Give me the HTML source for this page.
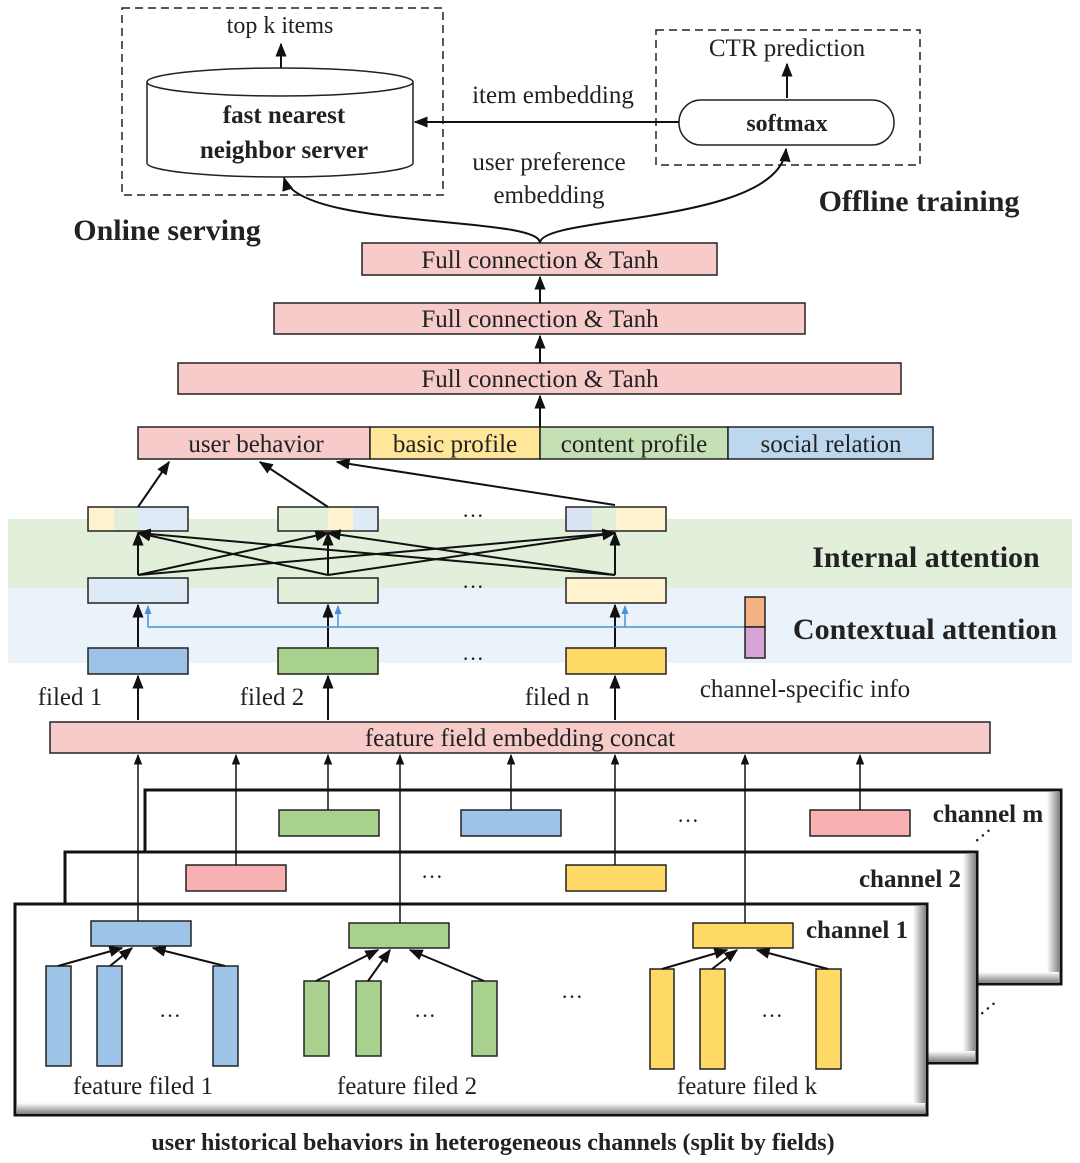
<!DOCTYPE html>
<html><head><meta charset="utf-8"><style>
html,body{margin:0;padding:0;background:#fff}
svg{display:block}
text{font-family:"Liberation Serif",serif;fill:#222}
.b{font-weight:bold}
</style></head><body>
<svg width="1080" height="1163" viewBox="0 0 1080 1163" xmlns="http://www.w3.org/2000/svg">
<defs>
<marker id="a" viewBox="0 0 10 10" refX="9" refY="5" markerWidth="7" markerHeight="7" orient="auto-start-reverse"><path d="M0,1 L10,5 L0,9 z" fill="#111"/></marker>
<marker id="ab" viewBox="0 0 10 10" refX="9" refY="5" markerWidth="6" markerHeight="6" orient="auto"><path d="M0,1 L10,5 L0,9 z" fill="#4a90d9"/></marker>
<linearGradient id="gr" x1="0" x2="1"><stop offset="0" stop-color="#fff"/><stop offset="1" stop-color="#888"/></linearGradient>
<linearGradient id="gb" x1="0" y1="0" x2="0" y2="1"><stop offset="0" stop-color="#fff"/><stop offset="1" stop-color="#888"/></linearGradient>
</defs>

<!-- Top section -->
<rect x="122" y="8" width="321" height="187" fill="none" stroke="#222" stroke-width="1.5" stroke-dasharray="8,5"/>
<rect x="656" y="30" width="264" height="135" fill="none" stroke="#222" stroke-width="1.5" stroke-dasharray="8,5"/>
<text x="280" y="33" font-size="24" text-anchor="middle">top k items</text>
<line x1="281" y1="76" x2="281" y2="44" stroke="#111" stroke-width="2" marker-end="url(#a)"/>
<path d="M147,82 L147,163 A133,14 0 0 0 413,163 L413,82" fill="#fff" stroke="#222" stroke-width="1.5"/>
<ellipse cx="280" cy="82" rx="133" ry="14" fill="#fff" stroke="#222" stroke-width="1.5"/>
<text x="284" y="123" font-size="25" text-anchor="middle" class="b">fast nearest</text>
<text x="284" y="158" font-size="25" text-anchor="middle" class="b">neighbor server</text>
<text x="787" y="56" font-size="25" text-anchor="middle">CTR prediction</text>
<line x1="787" y1="98" x2="787" y2="64" stroke="#111" stroke-width="2" marker-end="url(#a)"/>
<rect x="679" y="100" width="215" height="45" rx="22" fill="#fff" stroke="#222" stroke-width="1.5"/>
<text x="787" y="131" font-size="24" text-anchor="middle" class="b">softmax</text>
<line x1="679" y1="122" x2="415" y2="122" stroke="#111" stroke-width="2" marker-end="url(#a)"/>
<text x="553" y="103" font-size="25" text-anchor="middle">item embedding</text>
<text x="549" y="170" font-size="25" text-anchor="middle">user preference</text>
<text x="549" y="203" font-size="25" text-anchor="middle">embedding</text>
<text x="167" y="240" font-size="30" text-anchor="middle" class="b">Online serving</text>
<text x="919" y="211" font-size="30" text-anchor="middle" class="b">Offline training</text>
<path d="M540,243 C540,215 300,230 284,178" fill="none" stroke="#111" stroke-width="2" marker-end="url(#a)"/>
<path d="M540,243 C540,215 780,225 786,149" fill="none" stroke="#111" stroke-width="2" marker-end="url(#a)"/>

<!-- FC layers -->
<rect x="362" y="243" width="355" height="32" fill="#f8cbcb" stroke="#222" stroke-width="1.5"/>
<text x="540" y="268" font-size="25" text-anchor="middle">Full connection &amp; Tanh</text>
<rect x="274" y="303" width="531" height="31" fill="#f8cbcb" stroke="#222" stroke-width="1.5"/>
<text x="540" y="327" font-size="25" text-anchor="middle">Full connection &amp; Tanh</text>
<rect x="178" y="363" width="723" height="31" fill="#f8cbcb" stroke="#222" stroke-width="1.5"/>
<text x="540" y="387" font-size="25" text-anchor="middle">Full connection &amp; Tanh</text>
<line x1="540" y1="303" x2="540" y2="277" stroke="#111" stroke-width="2" marker-end="url(#a)"/>
<line x1="540" y1="363" x2="540" y2="336" stroke="#111" stroke-width="2" marker-end="url(#a)"/>
<line x1="540" y1="427" x2="540" y2="396" stroke="#111" stroke-width="2" marker-end="url(#a)"/>

<rect x="138" y="427" width="232" height="32" fill="#f8cbcb" stroke="#222" stroke-width="1.5"/>
<rect x="370" y="427" width="170" height="32" fill="#ffe699" stroke="#222" stroke-width="1.5"/>
<rect x="540" y="427" width="188" height="32" fill="#c5e0b4" stroke="#222" stroke-width="1.5"/>
<rect x="728" y="427" width="205" height="32" fill="#bdd7ee" stroke="#222" stroke-width="1.5"/>
<text x="256" y="452" font-size="25" text-anchor="middle">user behavior</text>
<text x="455" y="452" font-size="25" text-anchor="middle">basic profile</text>
<text x="634" y="452" font-size="25" text-anchor="middle">content profile</text>
<text x="831" y="452" font-size="25" text-anchor="middle">social relation</text>

<!-- bands -->
<rect x="8" y="519" width="1064" height="69" fill="#e2efda"/>
<rect x="8" y="588" width="1064" height="75" fill="#ebf3fa"/>
<text x="926" y="567" font-size="30" text-anchor="middle" class="b">Internal attention</text>
<text x="925" y="639" font-size="30" text-anchor="middle" class="b">Contextual attention</text>

<!-- top attention boxes -->
<g stroke="none">
<rect x="88" y="507" width="26" height="24" fill="#fff2cc"/><rect x="114" y="507" width="24" height="24" fill="#e2efda"/><rect x="138" y="507" width="50" height="24" fill="#deebf7"/>
<rect x="278" y="507" width="50" height="24" fill="#e2efda"/><rect x="328" y="507" width="25" height="24" fill="#fff2cc"/><rect x="353" y="507" width="25" height="24" fill="#deebf7"/>
<rect x="566" y="507" width="26" height="24" fill="#dae3f3"/><rect x="592" y="507" width="24" height="24" fill="#e2efda"/><rect x="616" y="507" width="50" height="24" fill="#fff2cc"/>
</g>
<g fill="none" stroke="#222" stroke-width="1.5">
<rect x="88" y="507" width="100" height="24"/><rect x="278" y="507" width="100" height="24"/><rect x="566" y="507" width="100" height="24"/>
</g>
<rect x="88" y="578" width="100" height="25" fill="#deebf7" stroke="#222" stroke-width="1.5"/>
<rect x="278" y="578" width="100" height="25" fill="#e2efda" stroke="#222" stroke-width="1.5"/>
<rect x="566" y="578" width="100" height="25" fill="#fff2cc" stroke="#222" stroke-width="1.5"/>
<rect x="88" y="648" width="100" height="26" fill="#9dc3e6" stroke="#222" stroke-width="1.5"/>
<rect x="278" y="648" width="100" height="26" fill="#a9d18e" stroke="#222" stroke-width="1.5"/>
<rect x="566" y="648" width="100" height="26" fill="#ffd966" stroke="#222" stroke-width="1.5"/>
<text x="473" y="523" font-size="22" text-anchor="middle">···</text>
<text x="473" y="594" font-size="22" text-anchor="middle">···</text>
<text x="473" y="666" font-size="22" text-anchor="middle">···</text>

<g stroke="#111" stroke-width="2" fill="none">
<line x1="138" y1="507" x2="169" y2="462" marker-end="url(#a)"/>
<line x1="328" y1="507" x2="260" y2="462" marker-end="url(#a)"/>
<line x1="615" y1="505" x2="337" y2="462" marker-end="url(#a)"/>
<line x1="138" y1="575" x2="138" y2="533" marker-end="url(#a)"/>
<line x1="328" y1="575" x2="328" y2="533" marker-end="url(#a)"/>
<line x1="615" y1="575" x2="615" y2="533" marker-end="url(#a)"/>
<line x1="138" y1="575" x2="328" y2="533" marker-end="url(#a)"/>
<line x1="138" y1="575" x2="615" y2="533" marker-end="url(#a)"/>
<line x1="328" y1="575" x2="138" y2="533" marker-end="url(#a)"/>
<line x1="328" y1="575" x2="615" y2="533" marker-end="url(#a)"/>
<line x1="615" y1="575" x2="138" y2="533" marker-end="url(#a)"/>
<line x1="615" y1="575" x2="328" y2="533" marker-end="url(#a)"/>
<line x1="138" y1="647" x2="138" y2="605" marker-end="url(#a)"/>
<line x1="328" y1="647" x2="328" y2="605" marker-end="url(#a)"/>
<line x1="615" y1="647" x2="615" y2="605" marker-end="url(#a)"/>
<line x1="138" y1="720" x2="138" y2="676" marker-end="url(#a)"/>
<line x1="328" y1="720" x2="328" y2="676" marker-end="url(#a)"/>
<line x1="615" y1="720" x2="615" y2="676" marker-end="url(#a)"/>
</g>
<g stroke="#4a90d9" stroke-width="1.5" fill="none">
<polyline points="745,627 148,627 148,606" marker-end="url(#ab)"/>
<polyline points="338,627 338,606" marker-end="url(#ab)"/>
<polyline points="625,627 625,606" marker-end="url(#ab)"/>
</g>
<rect x="745" y="597" width="20" height="30" fill="#f4b183" stroke="#222" stroke-width="1.5"/>
<rect x="745" y="627" width="20" height="31" fill="#d5a6d5" stroke="#222" stroke-width="1.5"/>

<text x="70" y="705" font-size="25" text-anchor="middle">filed 1</text>
<text x="272" y="705" font-size="25" text-anchor="middle">filed 2</text>
<text x="557" y="705" font-size="25" text-anchor="middle">filed n</text>
<text x="805" y="697" font-size="25" text-anchor="middle">channel-specific info</text>

<rect x="50" y="722" width="940" height="31" fill="#f8cbcb" stroke="#222" stroke-width="1.5"/>
<text x="520" y="746" font-size="25" text-anchor="middle">feature field embedding concat</text>

<!-- channel m -->
<rect x="145" y="790" width="916" height="194" fill="#fff" stroke="#111" stroke-width="3"/>
<rect x="1047" y="792" width="12" height="190" fill="url(#gr)"/>
<rect x="147" y="972" width="912" height="10" fill="url(#gb)"/>
<rect x="279" y="810" width="100" height="26" fill="#a9d18e" stroke="#222" stroke-width="1.5"/>
<rect x="461" y="810" width="100" height="26" fill="#9dc3e6" stroke="#222" stroke-width="1.5"/>
<rect x="810" y="810" width="100" height="26" fill="#f8b0b3" stroke="#222" stroke-width="1.5"/>
<text x="688" y="828" font-size="22" text-anchor="middle">···</text>
<text x="988" y="822" font-size="25" text-anchor="middle" class="b">channel m</text>
<text x="985" y="842" font-size="22" text-anchor="middle" transform="rotate(-40 985 838)">···</text>

<!-- channel 2 -->
<rect x="65" y="852" width="912" height="211" fill="#fff" stroke="#111" stroke-width="3"/>
<rect x="963" y="854" width="12" height="207" fill="url(#gr)"/>
<rect x="67" y="1051" width="908" height="10" fill="url(#gb)"/>
<rect x="186" y="865" width="100" height="26" fill="#f8b0b3" stroke="#222" stroke-width="1.5"/>
<rect x="566" y="865" width="100" height="26" fill="#ffd966" stroke="#222" stroke-width="1.5"/>
<text x="432" y="884" font-size="22" text-anchor="middle">···</text>
<text x="910" y="887" font-size="25" text-anchor="middle" class="b">channel 2</text>
<text x="990" y="1015" font-size="22" text-anchor="middle" transform="rotate(-40 990 1011)">···</text>

<!-- channel 1 -->
<rect x="15" y="904" width="912" height="211" fill="#fff" stroke="#111" stroke-width="3"/>
<rect x="913" y="906" width="12" height="207" fill="url(#gr)"/>
<rect x="17" y="1103" width="908" height="10" fill="url(#gb)"/>
<text x="857" y="938" font-size="25" text-anchor="middle" class="b">channel 1</text>

<rect x="91" y="921" width="100" height="25" fill="#9dc3e6" stroke="#222" stroke-width="1.5"/>
<rect x="349" y="923" width="100" height="25" fill="#a9d18e" stroke="#222" stroke-width="1.5"/>
<rect x="693" y="923" width="100" height="25" fill="#ffd966" stroke="#222" stroke-width="1.5"/>

<g stroke="#222" stroke-width="1.5">
<rect x="46" y="966" width="25" height="100" fill="#9dc3e6"/>
<rect x="97" y="966" width="25" height="100" fill="#9dc3e6"/>
<rect x="213" y="966" width="25" height="100" fill="#9dc3e6"/>
<rect x="304" y="981" width="25" height="75" fill="#a9d18e"/>
<rect x="356" y="981" width="25" height="75" fill="#a9d18e"/>
<rect x="472" y="981" width="25" height="75" fill="#a9d18e"/>
<rect x="650" y="969" width="24" height="100" fill="#ffd966"/>
<rect x="700" y="969" width="25" height="100" fill="#ffd966"/>
<rect x="816" y="969" width="25" height="100" fill="#ffd966"/>
</g>
<text x="170" y="1023" font-size="22" text-anchor="middle">···</text>
<text x="425" y="1023" font-size="22" text-anchor="middle">···</text>
<text x="572" y="1004" font-size="22" text-anchor="middle">···</text>
<text x="772" y="1023" font-size="22" text-anchor="middle">···</text>

<g stroke="#111" stroke-width="2" fill="none">
<line x1="58" y1="966" x2="122" y2="948" marker-end="url(#a)"/>
<line x1="110" y1="966" x2="132" y2="948" marker-end="url(#a)"/>
<line x1="225" y1="966" x2="153" y2="948" marker-end="url(#a)"/>
<line x1="316" y1="981" x2="378" y2="950" marker-end="url(#a)"/>
<line x1="368" y1="981" x2="390" y2="950" marker-end="url(#a)"/>
<line x1="484" y1="981" x2="410" y2="950" marker-end="url(#a)"/>
<line x1="662" y1="969" x2="727" y2="950" marker-end="url(#a)"/>
<line x1="712" y1="969" x2="737" y2="950" marker-end="url(#a)"/>
<line x1="828" y1="969" x2="757" y2="950" marker-end="url(#a)"/>
</g>
<g stroke="#111" stroke-width="1.5" fill="none">
<line x1="138" y1="921" x2="138" y2="755" marker-end="url(#a)"/>
<line x1="236" y1="865" x2="236" y2="755" marker-end="url(#a)"/>
<line x1="328" y1="810" x2="328" y2="755" marker-end="url(#a)"/>
<line x1="400" y1="923" x2="400" y2="755" marker-end="url(#a)"/>
<line x1="511" y1="810" x2="511" y2="755" marker-end="url(#a)"/>
<line x1="615" y1="865" x2="615" y2="755" marker-end="url(#a)"/>
<line x1="745" y1="923" x2="745" y2="755" marker-end="url(#a)"/>
<line x1="860" y1="810" x2="860" y2="755" marker-end="url(#a)"/>
</g>

<text x="143" y="1094" font-size="25" text-anchor="middle">feature filed 1</text>
<text x="407" y="1094" font-size="25" text-anchor="middle">feature filed 2</text>
<text x="747" y="1094" font-size="25" text-anchor="middle">feature filed k</text>
<text x="493" y="1150" font-size="24" text-anchor="middle" class="b">user historical behaviors in heterogeneous channels (split by fields)</text>
</svg>
</body></html>
